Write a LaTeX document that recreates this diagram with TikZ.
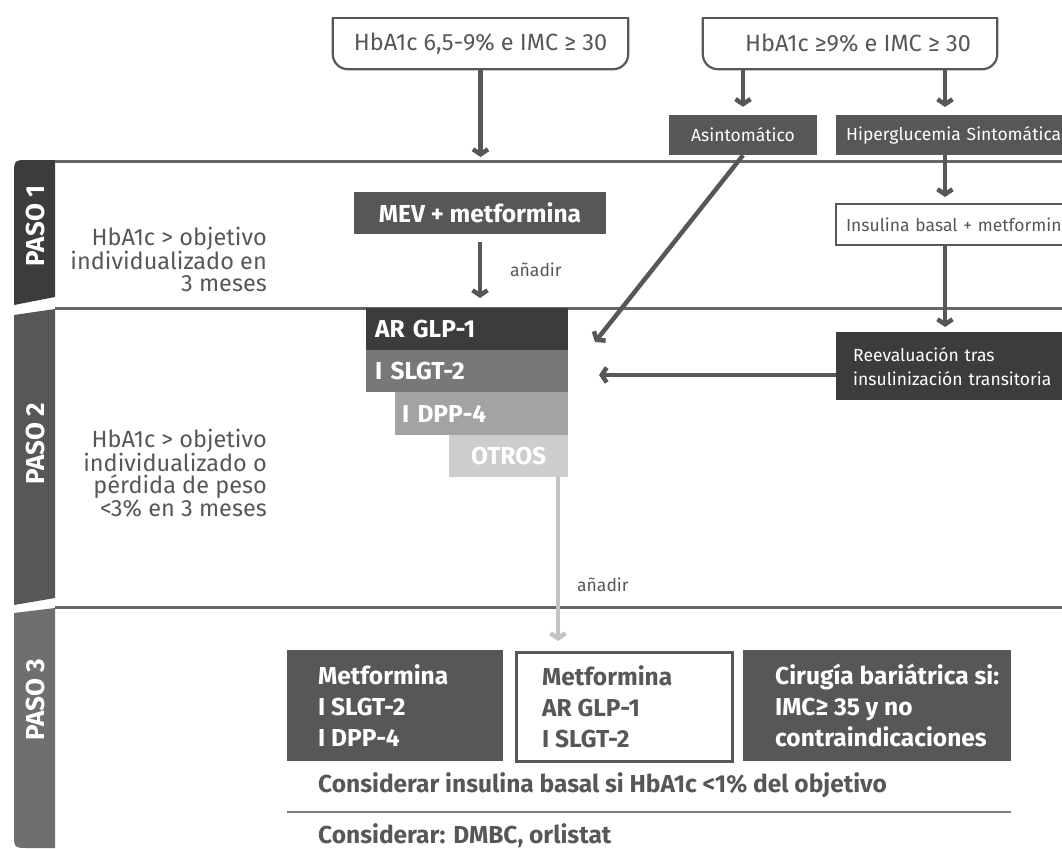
\documentclass[tikz,border=0pt]{standalone}
\usepackage{fontspec}
\setmainfont{Fira Sans}
\usetikzlibrary{arrows.meta}
\definecolor{txtgray}{HTML}{575756}
\definecolor{paso-one}{HTML}{3C3C3B}
\definecolor{paso-two}{HTML}{575756}
\definecolor{paso-three}{HTML}{6F6F6E}
\definecolor{glp-col}{HTML}{3C3C3B}
\definecolor{slgt-col}{HTML}{787877}
\definecolor{dpp-col}{HTML}{A3A3A2}
\definecolor{otros-col}{HTML}{CDCDCC}
\definecolor{rule-col}{HTML}{666666}

\begin{document}
\begin{tikzpicture}[x=1pt, y=-1pt,
    every node/.style={inner sep=0pt, text=txtgray},
    arr/.style={draw=txtgray, line width=4.5pt,
      -{Straight Barb[length=5pt,width=15pt]}},
    septline/.style={draw=rule-col, line width=3pt},
    bigtxt/.style={font=\fontsize{23.5}{22.5}\selectfont},
    smalltxt/.style={font=\fontsize{17.5}{24}\selectfont},
    boldtxt/.style={font=\bfseries\fontsize{24.5}{28}\selectfont},
    boxtxt/.style={font=\bfseries\fontsize{24.5}{31}\selectfont, align=left,
      anchor=west},
    pasolab/.style={rotate=90, text=white,
      font=\bfseries\fontsize{26}{28}\selectfont},
    graybox/.style={fill=txtgray, text=white}]
  % Page in pixel units: (x, y) with y running down, 1062 x 848.
  \useasboundingbox (0,0) rectangle (1062,848);
  \clip (0,0) rectangle (1062,848);

  % tabs on the left, one per step
  \fill[paso-one] (55,160) -- (29,160) .. controls (14,160) .. (14,175)
    -- (14,305) -- (55,297) -- cycle;
  \fill[paso-two] (14,315) -- (55,309) -- (55,598) -- (14,605) -- cycle;
  \fill[paso-three] (14,613) -- (55,608) -- (55,848) -- (29,848)
    .. controls (14,848) .. (14,833) -- cycle;
  \node[pasolab] (paso1) at (35,226) {PASO 1};
  \node[pasolab] (paso2) at (35,444) {PASO 2};
  \node[pasolab] (paso3) at (35,700) {PASO 3};

  \draw[septline] (55,161) -- (1062,161);
  \draw[septline] (55,308) -- (1062,308);
  \draw[septline] (55,607) -- (1062,607);

  % entry conditions
  \node[bigtxt, minimum width=295pt, minimum height=51pt] (hb1)
    at (480.5,43.5) {HbA1c 6,5-9\% e IMC ≥ 30};
  \node[bigtxt, minimum width=294pt, minimum height=51pt] (hb2)
    at (850,43.5) {\hspace{16pt}HbA1c ≥9\% e IMC ≥ 30};
  \foreach \b in {hb1, hb2} {
    \draw[txtgray, line width=2.2pt, rounded corners=15pt]
      (\b.north west) -- (\b.south west) -- (\b.south east) -- (\b.north east);
    \draw[txtgray, line width=2.2pt, line cap=rect]
      (\b.north west) -- (\b.north east);
  }

  \node[smalltxt, graybox, minimum width=148pt, minimum height=40pt] (asin)
    at (743,135) {Asintomático};
  \node[smalltxt, graybox, anchor=north west, minimum height=40pt,
        text width=260pt, inner xsep=10pt, align=left] (hiper)
    at (836,115) {Hiperglucemia Sintomática};

  % paso 1
  \node[boldtxt, graybox, minimum width=252pt, minimum height=42pt] (mev)
    at (480,213) {MEV + metformina};
  \node[smalltxt, draw=txtgray, line width=2pt, fill=white, anchor=north west,
        minimum height=41pt, text width=260pt, inner xsep=10pt, align=left]
    (insul) at (835,203) {Insulina basal + metformina};
  \node[bigtxt, align=right, anchor=east] (cond1) at (267,259.5)
    {HbA1c > objetivo\\individualizado en\\3 meses};
  \node[smalltxt, anchor=west] (add1) at (510,270) {añadir};

  % paso 2: stacked options
  \node[boldtxt, fill=glp-col, text=white, anchor=north west,
        minimum height=42pt, text width=184pt, inner xsep=9pt, align=left]
    (glp) at (366,308) {AR GLP-1};
  \node[boldtxt, fill=slgt-col, text=white, anchor=north west,
        minimum height=42pt, text width=184pt, inner xsep=9pt, align=left]
    (slgt) at (366,350) {I SLGT-2};
  \node[boldtxt, fill=dpp-col, text=white, anchor=north west,
        minimum height=43pt, text width=159pt, inner xsep=7pt, align=left]
    (dpp) at (395,392) {I DPP-4};
  \node[boldtxt, fill=otros-col, text=white, anchor=north west,
        minimum height=42pt, text width=101pt, inner xsep=9pt, align=center]
    (otros) at (449,435) {OTROS};
  \node[smalltxt, fill=glp-col, text=white, anchor=north west,
        minimum height=68pt, text width=240pt, inner xsep=17pt, align=left]
    (reev) at (836,332) {Reevaluación tras\\insulinización transitoria};
  \node[bigtxt, align=right, anchor=east] (cond2) at (267,473)
    {HbA1c > objetivo\\individualizado o\\pérdida de peso\\<3\% en 3 meses};
  \node[smalltxt, anchor=west] (add2) at (577,585) {añadir};

  % paso 3
  \node[graybox, minimum width=216pt, minimum height=111pt, anchor=north west]
    (boxA) at (287,650) {};
  \node[boxtxt, text=white] (txtA) at ([xshift=31pt]boxA.west)
    {Metformina\\I SLGT-2\\I DPP-4};
  \node[draw=txtgray, line width=2.5pt, minimum width=216pt,
        minimum height=109pt, anchor=north west] (boxB) at (515,651) {};
  \node[boxtxt] (txtB) at ([xshift=27pt]boxB.west)
    {Metformina\\AR GLP-1\\I SLGT-2};
  \node[graybox, minimum width=268pt, minimum height=111pt, anchor=north west]
    (boxC) at (743,650) {};
  \node[boxtxt, text=white] (txtC) at ([xshift=32pt]boxC.west)
    {Cirugía bariátrica si:\\IMC≥ 35 y no\\contraindicaciones};
  \node[boxtxt] (cons1) at (318,785)
    {Considerar insulina basal si HbA1c <1\% del objetivo};
  \node[boxtxt] (cons2) at (318,836) {Considerar: DMBC, orlistat};
  \draw[draw=rule-col!85, line width=2pt]
    (boxA.west |- 0,812) -- (boxC.east |- 0,812);

  % arrows
  \coordinate (mevin) at (480.5,157);
  \coordinate (rcol) at (945,0);
  \coordinate (glpin) at (595,342);
  \coordinate (slgtin) at (599,375);
  \coordinate (stepin) at (558,641);
  \draw[arr] (hb1.south) -- (mevin);
  \draw[arr, shorten >=8pt] (asin.north |- hb2.south) -- (asin.north);
  \draw[arr, shorten >=8pt] (rcol |- hb2.south) -- (rcol |- hiper.north);
  \draw[arr, shorten >=6pt] (rcol |- hiper.south) -- (rcol |- insul.north);
  \draw[arr, shorten >=5pt] (rcol |- insul.south) -- (rcol |- reev.north);
  \draw[arr, shorten <=8pt, shorten >=10pt] (mev.south) -- (mev.south |- glp.north);
  \draw[arr] (asin.south) -- (glpin);
  \draw[arr] (reev.west |- slgtin) -- (slgtin);
  \draw[arr, draw=otros-col!95!black] (otros.south -| stepin) -- (stepin);
\end{tikzpicture}
\end{document}
